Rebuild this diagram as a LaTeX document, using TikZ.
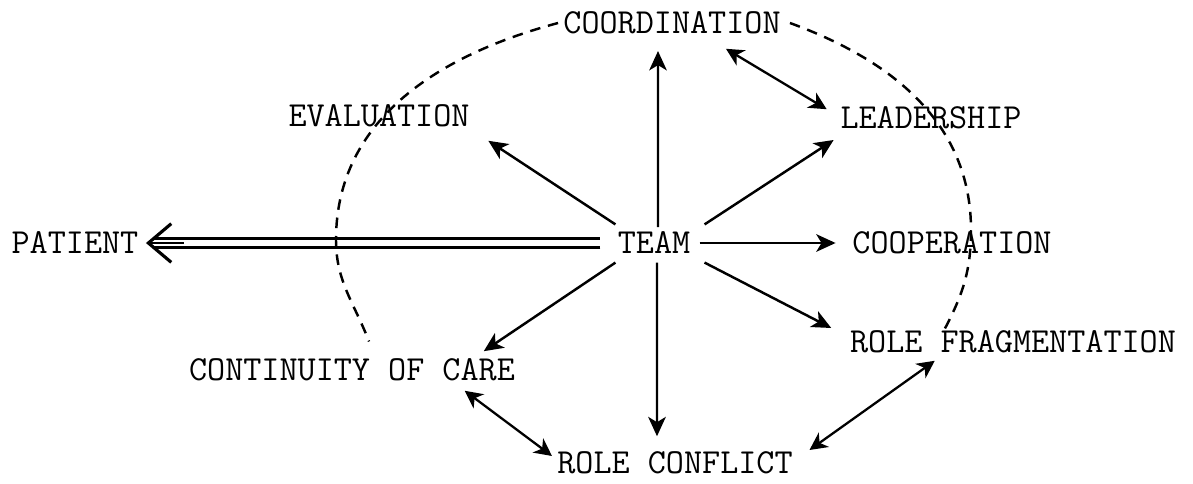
\documentclass[tikz,border=0pt]{standalone}
\usepackage{xcolor}
\usepackage{tikz}
\usetikzlibrary{arrows.meta,positioning}

\begin{document}
\begin{tikzpicture}[
    label/.style={inner sep=0pt,font=\ttfamily\fontsize{20}{24}\selectfont},
    arrow/.style={-{Stealth[length=11pt,width=10pt,inset=3pt]},line width=1.4pt},
    twoway/.style={{Stealth[length=10pt,width=10pt,inset=3pt]}-{Stealth[length=10pt,width=10pt,inset=3pt]},line width=1.3pt},
    chevron/.style={-{Straight Barb[length=13pt,width=22pt,line width=1.8pt]},line width=1.2pt},
    dashline/.style={dash pattern=on 6pt off 4.5pt,line width=1.4pt}
]
    \useasboundingbox (0,0) rectangle (23.86,9.66);

    \node[label] (team) at (13.08,4.80) {TEAM};
    \node[label] (coord) at (13.44,9.20) {COORDINATION};
    \node[label] (eval) at (7.58,7.34) {EVALUATION};
    \node[label] (lead) at (18.62,7.30) {LEADERSHIP};
    \node[label] (patient) at (1.50,4.80) {PATIENT};
    \node[label] (coop) at (19.04,4.80) {COOPERATION};
    \node[label] (rolefrag) at (20.26,2.82) {ROLE FRAGMENTATION};
    \node[label] (cont) at (7.04,2.26) {CONTINUITY OF CARE};
    \node[label] (conflict) at (13.50,0.40) {ROLE CONFLICT};

    \coordinate (leftbend) at (6.72,4.86);
    \coordinate (rightbend) at (19.42,5.06);

    \draw[arrow] ([xshift=0.08cm,yshift=0.09cm]team.north) -- ([xshift=-0.28cm,yshift=-0.33cm]coord.south);
    \draw[arrow] ([xshift=0.28cm,yshift=0.145cm]team.north east) -- ([xshift=-0.13cm,yshift=-0.44cm]lead.west);
    \draw[arrow] ([xshift=-0.04cm,yshift=0.145cm]team.north west) -- ([xshift=0.37cm,yshift=-0.265cm]eval.south east);
    \draw[arrow] ([xshift=0.18cm]team.east) -- ([xshift=-0.33cm]coop.west);
    \draw[arrow] ([xshift=0.28cm,yshift=-0.165cm]team.south east) -- ([xshift=-0.37cm,yshift=0.28cm]rolefrag.west);
    \draw[arrow] ([xshift=-0.04cm,yshift=-0.165cm]team.south west) -- ([xshift=-0.63cm,yshift=0.145cm]cont.north east);
    \draw[arrow] ([xshift=0.06cm,yshift=-0.165cm]team.south) -- ([xshift=-0.36cm,yshift=0.305cm]conflict.north);

    \draw[double,double distance=3.6pt,line width=1.4pt] ([xshift=-0.34cm]team.west) -- ([xshift=0.30cm]patient.east);
    \draw[chevron] ([xshift=0.9cm]patient.east) -- ([xshift=0.145cm]patient.east);

    \draw[twoway] ([xshift=-1.10cm,yshift=-0.285cm]coord.south east) -- ([xshift=-0.27cm,yshift=-0.055cm]lead.north west);
    \draw[twoway] ([xshift=-1.01cm,yshift=-0.185cm]cont.south east) -- ([xshift=-0.10cm,yshift=0.14cm]conflict.west);
    \draw[twoway] ([xshift=0.33cm,yshift=0.26cm]conflict.east) -- ([xshift=1.70cm,yshift=-0.145cm]rolefrag.south west);

    \draw[dashline] ([xshift=-0.1cm]coord.west) to[out=195,in=90] (leftbend) to[out=-90,in=111] ([xshift=0.34cm,yshift=0.34cm]cont.north);
    \draw[dashline] ([xshift=0.18cm]coord.east) to[out=-20,in=90] (rightbend) to[out=-90,in=62] ([xshift=-1.40cm,yshift=-0.035cm]rolefrag.north);
\end{tikzpicture}
\end{document}
